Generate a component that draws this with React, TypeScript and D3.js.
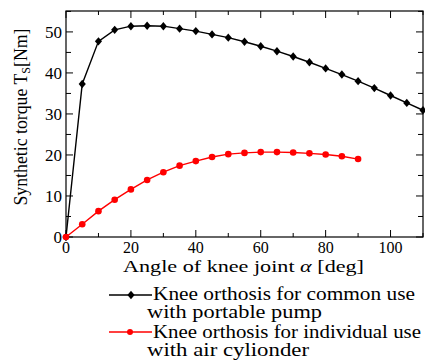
import { useEffect, useRef } from 'react';
import * as d3 from 'd3';

// angle of knee joint [deg]
const commonAngles = [0, 5, 10, 15, 20, 25, 30, 35, 40, 45, 50, 55, 60, 65, 70, 75, 80, 85, 90, 95, 100, 105, 110];
const commonTorque = [0, 37.3, 47.7, 50.5, 51.4, 51.5, 51.4, 50.8, 50.2, 49.4, 48.6, 47.6, 46.5, 45.3, 44.0, 42.6, 41.1, 39.6, 38.0, 36.3, 34.5, 32.7, 30.9];

const individualAngles = [0, 5, 10, 15, 20, 25, 30, 35, 40, 45, 50, 55, 60, 65, 70, 75, 80, 85, 90];
const individualTorque = [0, 3.1, 6.3, 9.1, 11.6, 13.9, 15.8, 17.4, 18.5, 19.5, 20.2, 20.5, 20.7, 20.7, 20.6, 20.4, 20.1, 19.7, 19.0];

const xTickLabels = [0, 20, 40, 60, 80, 100];
const yTickLabels = [0, 10, 20, 30, 40, 50];

const FONT = "'Liberation Serif', 'Times New Roman', Times, 'DejaVu Serif', serif";

export default function App() {
  const svgRef = useRef<SVGSVGElement>(null);

  useEffect(() => {
    if (!svgRef.current) return;
    const svg = d3.select(svgRef.current);
    svg.selectAll('*').remove();

    const left = 66;
    const right = 423;
    const top = 11;
    const bottom = 237;

    const x = d3.scaleLinear().domain([0, 110]).range([left, right]);
    const y = d3.scaleLinear().domain([0, 55.1]).range([bottom, top]);

    // frame
    svg
      .append('rect')
      .attr('x', left)
      .attr('y', top)
      .attr('width', right - left)
      .attr('height', bottom - top)
      .attr('fill', 'none')
      .attr('stroke', '#000')
      .attr('stroke-width', 1.2);

    // ticks, all inward
    const tickG = svg.append('g').attr('stroke', '#000').attr('stroke-width', 1);
    d3.range(0, 111, 10).forEach((v) => {
      const len = v % 20 === 0 ? 7 : 4;
      tickG.append('line').attr('x1', x(v)).attr('x2', x(v)).attr('y1', bottom).attr('y2', bottom - len);
      tickG.append('line').attr('x1', x(v)).attr('x2', x(v)).attr('y1', top).attr('y2', top + len);
    });
    d3.range(0, 56, 5).forEach((v) => {
      const len = v % 10 === 0 ? 7 : 5;
      tickG.append('line').attr('x1', left).attr('x2', left + len).attr('y1', y(v)).attr('y2', y(v));
      tickG.append('line').attr('x1', right).attr('x2', right - len).attr('y1', y(v)).attr('y2', y(v));
    });

    // tick labels
    svg
      .append('g')
      .selectAll('text')
      .data(xTickLabels)
      .enter()
      .append('text')
      .attr('x', (d) => x(d))
      .attr('y', 253)
      .attr('text-anchor', 'middle')
      .style('font-family', FONT)
      .style('font-size', '16px')
      .text((d) => d);

    svg
      .append('g')
      .selectAll('text')
      .data(yTickLabels)
      .enter()
      .append('text')
      .attr('x', 62)
      .attr('y', (d) => y(d) + 6)
      .attr('text-anchor', 'end')
      .style('font-family', FONT)
      .style('font-size', '17px')
      .text((d) => d);

    // axis titles
    const xTitle = svg
      .append('text')
      .attr('x', 123)
      .attr('y', 272)
      .style('font-family', FONT)
      .style('font-size', '17px')
      .attr('textLength', 241)
      .attr('lengthAdjust', 'spacingAndGlyphs');
    xTitle.append('tspan').text('Angle of knee joint  ');
    xTitle.append('tspan').style('font-style', 'italic').text('α');
    xTitle.append('tspan').text(' [deg]');

    const yTitle = svg
      .append('text')
      .attr('transform', 'translate(27,117) rotate(-90)')
      .attr('text-anchor', 'middle')
      .style('font-family', FONT)
      .style('font-size', '19px')
      .attr('textLength', 177)
      .attr('lengthAdjust', 'spacingAndGlyphs');
    yTitle.append('tspan').text('Synthetic torque T');
    yTitle.append('tspan').style('font-size', '13px').attr('dy', 3).text('S');
    yTitle.append('tspan').attr('dy', -3).text('[Nm]');

    const line = d3
      .line<[number, number]>()
      .x((d) => x(d[0]))
      .y((d) => y(d[1]));

    const commonData = commonAngles.map((a, i) => [a, commonTorque[i]] as [number, number]);
    const individualData = individualAngles.map((a, i) => [a, individualTorque[i]] as [number, number]);

    const diamond = d3.symbol().type(d3.symbolDiamond2).size(45);

    // black series
    svg
      .append('path')
      .attr('d', line(commonData))
      .attr('fill', 'none')
      .attr('stroke', '#000')
      .attr('stroke-width', 1.4);
    svg
      .append('g')
      .selectAll('path')
      .data(commonData)
      .enter()
      .append('path')
      .attr('d', diamond())
      .attr('transform', (d) => `translate(${x(d[0])},${y(d[1])}) scale(0.85,1)`)
      .attr('fill', '#000');

    // red series
    svg
      .append('path')
      .attr('d', line(individualData))
      .attr('fill', 'none')
      .attr('stroke', '#ff0000')
      .attr('stroke-width', 1.4);
    svg
      .append('g')
      .selectAll('circle')
      .data(individualData)
      .enter()
      .append('circle')
      .attr('cx', (d) => x(d[0]))
      .attr('cy', (d) => y(d[1]))
      .attr('r', 3.3)
      .attr('fill', '#ff0000');

    // legend
    const legend = svg.append('g');
    legend.append('line').attr('x1', 109).attr('x2', 152).attr('y1', 295).attr('y2', 295).attr('stroke', '#000').attr('stroke-width', 1.4);
    legend.append('path').attr('d', diamond()).attr('transform', 'translate(131,295) scale(0.85,1)').attr('fill', '#000');
    legend.append('line').attr('x1', 109).attr('x2', 152).attr('y1', 332).attr('y2', 332).attr('stroke', '#ff0000').attr('stroke-width', 1.4);
    legend.append('circle').attr('cx', 130).attr('cy', 332).attr('r', 3).attr('fill', '#ff0000');

    const legendText = [
      { x: 153, y: 300, t: 'Knee orthosis for common use', w: 262 },
      { x: 147, y: 318, t: 'with portable pump', w: 175 },
      { x: 153, y: 338, t: 'Knee orthosis for individual use', w: 268 },
      { x: 147, y: 356, t: 'with air cylionder', w: 162 }
    ];
    legend
      .selectAll('text')
      .data(legendText)
      .enter()
      .append('text')
      .attr('x', (d) => d.x)
      .attr('y', (d) => d.y)
      .style('font-family', FONT)
      .style('font-size', '18px')
      .attr('textLength', (d) => d.w)
      .attr('lengthAdjust', 'spacingAndGlyphs')
      .text((d) => d.t);
  }, []);

  return (
    <svg
      ref={svgRef}
      width={425}
      height={362}
      style={{ position: 'absolute', left: 0, top: 0, background: '#fff' }}
    />
  );
}
